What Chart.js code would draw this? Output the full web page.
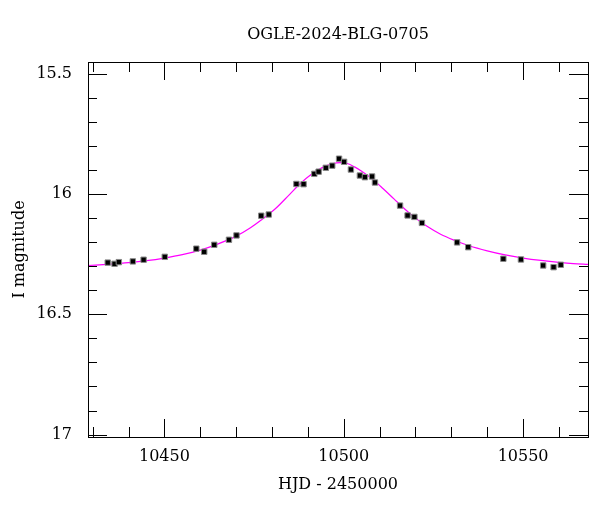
<!DOCTYPE html>
<html><head><meta charset="utf-8">
<script src="https://cdn.jsdelivr.net/npm/chart.js@4"></script>
<style>html,body{margin:0;padding:0;background:#fff}</style>
</head><body>
<div style="width:600px;height:512px"><canvas id="c" width="600" height="512"></canvas></div>
<script>
const title = "OGLE-2024-BLG-0705";
const obsHJD = [10434.2,10436.1,10437.3,10441.2,10444.2,10450.1,10458.9,10461.1,10463.9,10468.0,10470.1,10477.0,10479.1,10486.8,10488.8,10491.8,10493.0,10495.0,10496.8,10498.7,10500.1,10502.0,10504.5,10505.9,10507.9,10508.7,10515.7,10517.8,10519.7,10521.8,10531.6,10534.7,10544.5,10549.4,10555.6,10558.5,10560.5];
const obsMag = [16.285,16.290,16.283,16.280,16.273,16.261,16.227,16.240,16.211,16.190,16.172,16.090,16.085,15.958,15.959,15.916,15.907,15.891,15.882,15.853,15.866,15.898,15.923,15.930,15.927,15.952,16.048,16.089,16.095,16.120,16.201,16.221,16.269,16.272,16.297,16.304,16.294];
const modelHJD = [10428.7,10435,10440,10445,10450,10455,10460,10465,10470,10474,10477,10481,10485,10488,10491,10494,10497,10499,10501,10503,10505,10508,10511,10514,10517,10520,10523,10527,10531,10535,10540,10545,10550,10555,10560,10564,10568.1];
const modelMag = [16.297,16.291,16.285,16.277,16.266,16.252,16.233,16.207,16.175,16.140,16.108,16.060,16.000,15.955,15.918,15.890,15.873,15.869,15.873,15.887,15.905,15.938,15.978,16.020,16.062,16.100,16.132,16.167,16.193,16.215,16.236,16.253,16.266,16.276,16.284,16.289,16.292];
const yTicks = [15.5,16,16.5,17];
const yLabels = ["15.5","16","16.5","17"];
const xTicks = [10450,10500,10550];
const xLabels = ["10450","10500","10550"];

const serif = "'DejaVu Serif', 'Liberation Serif', serif";

const frame = {
  id:'frame',
  afterDatasetsDraw(chart){
    const {ctx, chartArea:a, scales:{x,y}} = chart;
    ctx.save();
    ctx.strokeStyle='#000'; ctx.lineWidth=1;
    ctx.strokeRect(a.left+0.5,a.top+0.5,a.right-a.left,a.bottom-a.top);
    ctx.beginPath();
    for(let v=15.5; v<=17.001; v+=0.1){
      const p = Math.round(y.getPixelForValue(v))+0.5;
      const major = Math.abs(v*2-Math.round(v*2))<0.01;
      const L = major?19:9;
      ctx.moveTo(a.left,p); ctx.lineTo(a.left+L,p);
      ctx.moveTo(a.right,p); ctx.lineTo(a.right-L,p);
    }
    for(let v=10430; v<=10568; v+=10){
      const p = Math.round(x.getPixelForValue(v))+0.5;
      const L = (v%50===0)?18:10;
      ctx.moveTo(p,a.bottom); ctx.lineTo(p,a.bottom-L);
      ctx.moveTo(p,a.top); ctx.lineTo(p,a.top+L);
    }
    ctx.stroke();
    ctx.fillStyle='#000';
    ctx.font = "16px "+serif;
    ctx.textAlign='center'; ctx.textBaseline='middle';
    ctx.fillText(title,(a.left+a.right)/2,35);
    ctx.restore();
  }
};

new Chart(document.getElementById('c'),{
  type:'scatter',
  data:{datasets:[
    {label:'data',data:obsHJD.map((t,i)=>({x:t,y:obsMag[i]})),pointStyle:'rect',pointRadius:3.8,backgroundColor:'#000',borderColor:'#888',borderWidth:1,order:0},
    {label:'model',type:'line',data:modelHJD.map((t,i)=>({x:t,y:modelMag[i]})),borderColor:'#ff00ff',borderWidth:1.2,pointRadius:0,tension:0.4,cubicInterpolationMode:'monotone',fill:false,order:1}
  ]},
  options:{
    responsive:false,animation:false,
    layout:{padding:{top:62,right:12,left:0,bottom:14}},
    plugins:{legend:{display:false},tooltip:{enabled:false}},
    scales:{
      x:{type:'linear',min:10428.7,max:10568.1,
        grid:{display:false},border:{display:false},
        afterBuildTicks:s=>{s.ticks=xTicks.map(v=>({value:v}));},
        afterFit:s=>{s.height=61;},
        ticks:{color:'#000',font:{family:serif,size:16},padding:2,maxRotation:0,callback:(v)=>xLabels[xTicks.indexOf(v)]},
        title:{display:true,text:'HJD - 2450000',color:'#000',font:{family:serif,size:16},padding:{top:4}}
      },
      y:{type:'linear',reverse:true,min:15.451,max:17.01,
        grid:{display:false},border:{display:false},
        afterBuildTicks:s=>{s.ticks=yTicks.map(v=>({value:v}));},
        afterFit:s=>{s.width=88;},
        ticks:{color:'#000',font:{family:serif,size:16},padding:8,callback:(v)=>yLabels[yTicks.indexOf(v)]},
        title:{display:true,text:'I magnitude',color:'#000',font:{family:serif,size:16},padding:{top:10,bottom:8}}
      }
    }
  },
  plugins:[frame]
});
</script>
</body></html>
